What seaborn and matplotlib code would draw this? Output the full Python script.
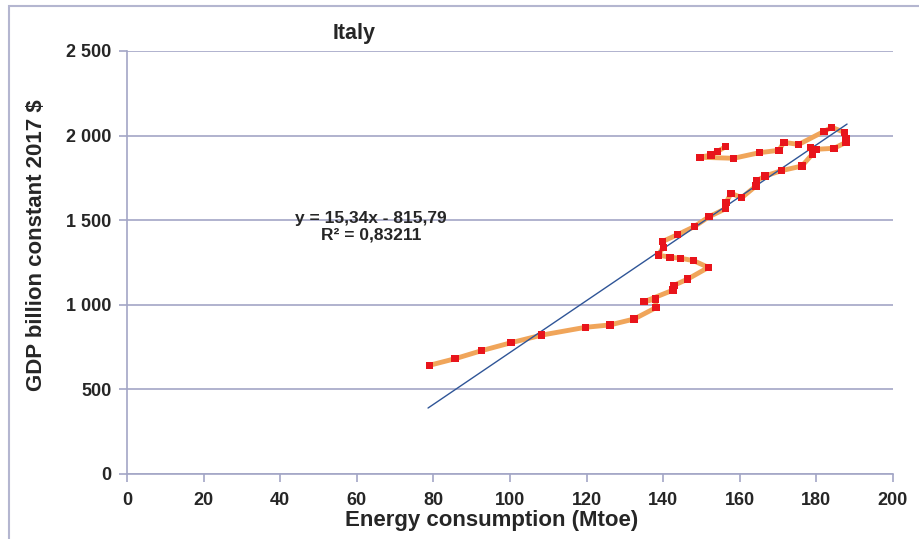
import numpy as np
import pandas as pd
import matplotlib
matplotlib.use("Agg")
import matplotlib.pyplot as plt
import seaborn as sns
from matplotlib.patches import Rectangle
from matplotlib.ticker import FuncFormatter

# Italy, energy consumption (Mtoe) vs GDP (billion constant 2017 $)
energy = [78.9, 85.6, 92.6, 100.3, 108.3, 119.7, 126.1, 132.4, 138.1, 138.0,
          135.0, 142.6, 142.8, 146.4, 151.8, 147.9, 144.6, 141.8, 138.7, 140.0,
          139.9, 143.7, 148.1, 152.0, 156.3, 156.4, 157.7, 160.5, 164.2, 164.4,
          166.6, 170.9, 176.2, 178.9, 178.5, 179.9, 184.6, 187.7, 187.7, 187.3,
          184.0, 182.0, 175.4, 171.5, 170.2, 165.1, 158.4, 149.6, 152.5, 154.2,
          156.3]
gdp = [642, 681, 729, 776, 821, 867, 881, 916, 983, 1034,
       1018, 1087, 1115, 1152, 1221, 1261, 1275, 1281, 1294, 1340,
       1375, 1414, 1462, 1521, 1568, 1603, 1659, 1633, 1702, 1733,
       1761, 1793, 1820, 1889, 1929, 1919, 1925, 1960, 1980, 2019,
       2049, 2025, 1948, 1960, 1913, 1899, 1866, 1872, 1885, 1907,
       1934]

# trend line from the chart's equation
slope = 15.34
intercept = -815.79
equation_text = "y = 15,34x - 815,79\nR² = 0,83211"

x_ticks = list(range(0, 201, 20))
y_ticks = list(range(0, 2501, 500))

df = pd.DataFrame({"energy": energy, "gdp": gdp})

sns.set_style("white")
plt.rcParams['font.family'] = ['Liberation Sans', 'DejaVu Sans']

fig = plt.figure(figsize=(9.2, 5.39), dpi=100)
ax = fig.add_axes([127 / 920, 1 - 474 / 539, (893 - 127) / 920, (474 - 51) / 539])

grid_col = "#a3a6c6"

# trend line
x_fit = np.array([min(energy) - 0.3, max(energy) + 0.3])
sns.lineplot(x=x_fit, y=slope * x_fit + intercept, ax=ax, color="#2f5597",
             linewidth=1.0, zorder=3)

# data path (no aggregation, keep year order)
sns.lineplot(data=df, x="energy", y="gdp", sort=False, estimator=None, ax=ax,
             color="#f0a55a", linewidth=3.5, zorder=2)
sns.scatterplot(data=df, x="energy", y="gdp", ax=ax, marker="s", color="#e8141b",
                s=28, edgecolor="none", zorder=4)

ax.set_xlim(0, 200)
ax.set_ylim(0, 2500)
ax.set_xticks(x_ticks)
ax.set_yticks(y_ticks)
ax.yaxis.set_major_formatter(FuncFormatter(lambda v, p: f"{int(v):,}".replace(",", " ")))
ax.grid(axis="y", color=grid_col, linewidth=1.2)
ax.set_axisbelow(True)

for side in ["top", "right"]:
    ax.spines[side].set_visible(False)
for side in ["left", "bottom"]:
    ax.spines[side].set_color(grid_col)
    ax.spines[side].set_linewidth(1.2)

ax.tick_params(axis="both", which="major", direction="out", length=6, width=1.2,
               color=grid_col, labelsize=13, left=True, bottom=True)
ax.tick_params(axis="x", pad=7)
ax.tick_params(axis="y", pad=5)
for lbl in ax.get_xticklabels() + ax.get_yticklabels():
    lbl.set_fontweight("bold")

ax.set_xlabel("Energy consumption (Mtoe)", fontsize=16, fontweight="bold")
ax.set_ylabel("GDP billion constant 2017 $", fontsize=16, fontweight="bold")
ax.xaxis.set_label_coords((492 - 127) / 766, (474 - 510) / 423)
ax.yaxis.set_label_coords((47 - 127) / 766, (474 - 245) / 423)

fig.text(354 / 920, 1 - 33 / 539, "Italy", fontsize=15.5, fontweight="bold",
         ha="center", va="center")
fig.text(371 / 920, 1 - 227 / 539, equation_text, fontsize=12.5, fontweight="bold",
         ha="center", va="center", linespacing=1.1)

# outer frame of the chart
fig.patches.append(Rectangle((9 / 920, -0.1), 1.2, 1 - 6 / 539 + 0.1,
                             transform=fig.transFigure, fill=False,
                             edgecolor="#b4b6d0", linewidth=1.5))

fig.savefig("out.png", dpi=100)
